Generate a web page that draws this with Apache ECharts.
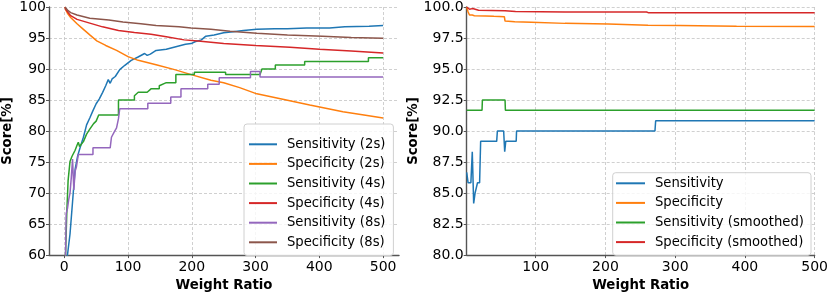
<!DOCTYPE html>
<html><head><meta charset="utf-8">
<script src="https://cdn.jsdelivr.net/npm/echarts@6/dist/echarts.min.js"></script>
<style>html,body{margin:0;padding:0;background:#fff}#c{width:831px;height:297px}</style>
</head><body><div id="c"></div>
<script>
// ---------- tick labels ----------
const leftXTicks = [0, 100, 200, 300, 400, 500];
const rightXTicks = [100, 200, 300, 400, 500];

// ---------- left chart (x = weight ratio) ----------
const sens2sX = [1,5,9,13,17,21,25,30,35,40,45,50,55,60,65,69,72,75,80,87,95,105,115,126,130,135,144,160,175,190,199,205,215,222,235,250,265,281,302,330,350,380,416,440,478,500];
const sens2sY = [57,60,63.4,68.6,73.8,76,77.4,79,81,82.1,83.3,84.4,85.2,86.2,87.3,88.3,87.7,88.4,88.8,89.9,90.6,91.4,91.9,92.5,92.2,92.4,93.0,93.2,93.6,94.0,94.1,94.4,94.7,95.3,95.5,95.85,96.0,96.2,96.4,96.5,96.5,96.6,96.6,96.8,96.9,97.0];

const spec2sX = [1,3,5,10,20,30,40,51,65,82,100,116,144,173,199,230,250,275,302,339,385,437,470,500];
const spec2sY = [100,99.4,99.0,98.3,97.3,96.4,95.5,94.55,93.8,93.0,92.0,91.4,90.7,89.9,89.1,88.2,87.8,87.0,86.0,85.2,84.2,83.1,82.6,82.1];

const sens4sX = [1,2,4,6,9,12,17,20,22,24,27,30,35,40,46,50,53,54,85,85,110,110,116,130,136,149,149,160,175,175,204,204,253,253,307,310,331,331,377,377,477,477,500];
const sens4sY = [56,60,67,72,75.1,75.9,76.9,77.7,78.2,77.5,77.2,78.3,79.5,80.3,81.2,81.6,81.6,82.6,82.6,85.0,85.0,85.7,86.25,86.25,86.8,86.8,87.3,87.8,87.8,89.1,89.1,89.5,89.5,89.1,89.1,90.0,90.0,90.66,90.66,91.2,91.2,91.8,91.8];

const spec4sX = [1,3,5,10,20,40,60,85,110,136,160,188,210,230,250,300,354,400,450,500];
const spec4sY = [100,99.5,99.2,98.6,98.0,97.4,96.8,96.2,95.9,95.6,95.2,94.7,94.5,94.3,94.1,93.8,93.5,93.2,92.9,92.6];

const sens8sX = [1,2,3,5,7,9,11,13,15,17,19,22,45,45,72,74,78,82,85,87,131,131,167,167,183,183,225,225,243,243,292,292,307,307,500];
const sens8sY = [56,60,66.7,67.5,69,70,72.5,75.5,70.5,73.5,74.2,76.2,76.2,77.3,77.3,79.0,79.8,80.5,82.0,83.6,83.6,84.5,84.5,85.5,85.5,86.8,86.8,87.55,87.55,88.6,88.6,89.6,89.6,88.7,88.7];

const spec8sX = [1,3,5,10,20,40,70,92,120,144,180,199,230,260,302,350,405,450,500];
const spec8sY = [100,99.7,99.5,99.1,98.7,98.2,97.9,97.6,97.3,97.0,96.8,96.6,96.4,96.1,95.75,95.5,95.3,95.1,94.97];

// ---------- right chart ----------
const sensX = [1,2,3,7,9,11,13,15,16.5,19.5,21,44,45,54,55.5,57,72,72.5,271,272,500];
const sensY = [86.67,86.67,85.83,85.83,88.33,84.17,85.0,85.0,85.83,85.83,89.17,89.17,90.0,90.0,88.33,89.17,89.17,90.0,90.0,90.83,90.83];

const specX = [1,3,5,7,9,12,28,40,55,56,70,94,142,204,261,307,388,500];
const specY = [100,99.6,99.35,99.2,99.35,99.3,99.28,99.25,99.22,98.87,98.82,98.78,98.68,98.62,98.53,98.5,98.44,98.42];

const sensSmX = [1,23,23.5,56,56.5,500];
const sensSmY = [91.67,91.67,92.5,92.5,91.67,91.67];

const specSmX = [1,2,5,9,12,18,56,71,142,259,262,500];
const specSmY = [100,99.85,99.82,99.87,99.84,99.74,99.7,99.64,99.6,99.6,99.53,99.53];

// ---------- build ----------
const C = ['#1f77b4','#ff7f0e','#2ca02c','#d62728','#9467bd','#8c564b'];
const FONT = 'DejaVu Sans';
const zip = (X, Y) => X.map((x, i) => [x, Y[i]]);
const gridLine = {show: true, lineStyle: {color: '#c4c4c4', width: 0.8, type: [3, 2]}};
const axisLine = {show: true, onZero: false, lineStyle: {color: '#555', width: 1.4}};
const tick = {show: true, length: 3, lineStyle: {color: '#555', width: 1}};
const lblY = {color: '#000', fontSize: 14, fontFamily: FONT, margin: 3};
const lblX = {color: '#000', fontSize: 14, fontFamily: FONT, margin: 5};
const nameStyle = {color: '#000', fontSize: 13.3, fontWeight: 'bold', fontFamily: FONT};
const legText = {color: '#000', fontSize: 13.2, fontFamily: FONT, lineHeight: 17, padding: [0, 0, 0, 5]};

function line(name, X, Y, color, xi) {
  return {name, type: 'line', xAxisIndex: xi, yAxisIndex: xi, data: zip(X, Y),
    showSymbol: false, symbol: 'none', clip: true, animation: false,
    lineStyle: {color, width: 1.5}, itemStyle: {color}};
}

const chart = echarts.init(document.getElementById('c'), null, {renderer: 'canvas'});
chart.setOption({
  animation: false,
  backgroundColor: '#fff',
  textStyle: {fontFamily: FONT},
  grid: [
    {left: 48, top: 5, width: 351, height: 257},
    {left: 466.7, top: 5, width: 352, height: 257}
  ],
  xAxis: [
    {type: 'value', gridIndex: 0, min: -23.95, max: 524.95,
     axisLine, axisTick: Object.assign({customValues: leftXTicks}, tick),
     axisLabel: Object.assign({customValues: leftXTicks}, lblX),
     splitLine: gridLine,
     name: 'Weight Ratio', nameLocation: 'middle', nameGap: 22, nameTextStyle: nameStyle},
    {type: 'value', gridIndex: 1, min: 1, max: 500,
     axisLine, axisTick: Object.assign({customValues: rightXTicks}, tick),
     axisLabel: Object.assign({customValues: rightXTicks}, lblX),
     splitLine: gridLine,
     name: 'Weight Ratio', nameLocation: 'middle', nameGap: 22, nameTextStyle: nameStyle}
  ],
  yAxis: [
    {type: 'value', gridIndex: 0, min: 60, max: 100, interval: 5,
     axisLine, axisTick: tick, axisLabel: lblY, splitLine: gridLine,
     name: 'Score[%]', nameLocation: 'middle', nameGap: 35, nameTextStyle: nameStyle},
    {type: 'value', gridIndex: 1, min: 80, max: 100, interval: 2.5,
     axisLine, axisTick: tick,
     axisLabel: Object.assign({formatter: v => v.toFixed(1)}, lblY), splitLine: gridLine,
     name: 'Score[%]', nameLocation: 'middle', nameGap: 47, nameTextStyle: nameStyle}
  ],
  legend: [
    {left: 244, top: 124, orient: 'vertical', icon: 'rect', itemWidth: 28, itemHeight: 2, itemGap: 2.6,
     padding: [11.8, 8, 4.7, 5], backgroundColor: 'rgba(255,255,255,0.8)', borderColor: '#d0d0d0', borderWidth: 1, borderRadius: 3,
     textStyle: legText,
     data: ['Sensitivity (2s)','Specificity (2s)','Sensitivity (4s)','Specificity (4s)','Sensitivity (8s)','Specificity (8s)']},
    {left: 612.7, top: 172.7, orient: 'vertical', icon: 'rect', itemWidth: 29, itemHeight: 2, itemGap: 2.6,
     padding: [2.1, 7, 4.7, 3.3], backgroundColor: 'rgba(255,255,255,0.8)', borderColor: '#d0d0d0', borderWidth: 1, borderRadius: 3,
     textStyle: legText,
     data: ['Sensitivity','Specificity','Sensitivity (smoothed)','Specificity (smoothed)']}
  ],
  series: [
    line('Sensitivity (2s)', sens2sX, sens2sY, C[0], 0),
    line('Specificity (2s)', spec2sX, spec2sY, C[1], 0),
    line('Sensitivity (4s)', sens4sX, sens4sY, C[2], 0),
    line('Specificity (4s)', spec4sX, spec4sY, C[3], 0),
    line('Sensitivity (8s)', sens8sX, sens8sY, C[4], 0),
    line('Specificity (8s)', spec8sX, spec8sY, C[5], 0),
    line('Sensitivity', sensX, sensY, C[0], 1),
    line('Specificity', specX, specY, C[1], 1),
    line('Sensitivity (smoothed)', sensSmX, sensSmY, C[2], 1),
    line('Specificity (smoothed)', specSmX, specSmY, C[3], 1)
  ]
});
</script></body></html>
